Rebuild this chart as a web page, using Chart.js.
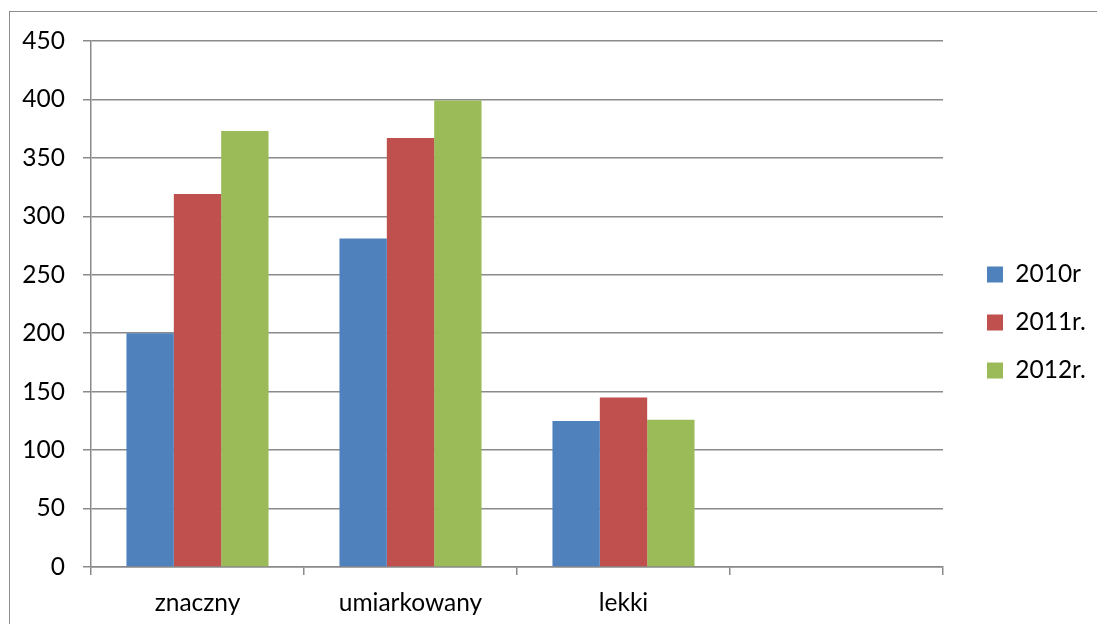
<!DOCTYPE html>
<html>
<head>
<meta charset="utf-8">
<script src="https://cdn.jsdelivr.net/npm/chart.js@4/dist/chart.umd.min.js"></script>
<style>
  html, body { margin: 0; padding: 0; background: #fff; }
  #wrap { position: relative; width: 1097px; height: 624px; overflow: hidden; }
  #frame { position: absolute; left: 9px; top: 11px; right: -5px; bottom: -5px;
           border-left: 1.5px solid #8c8c8c; border-top: 1.5px solid #8c8c8c; }
  canvas { position: absolute; left: 0; top: 0; }
</style>
</head>
<body>
<div id="wrap">
  <div id="frame"></div>
  <canvas id="c" width="1097" height="624"></canvas>
</div>
<script>
const categories = ["znaczny", "umiarkowany", "lekki", ""];
const seriesNames = ["2010r", "2011r.", "2012r."];
const values2010 = [200, 281, 125, null];
const values2011 = [319, 367, 145, null];
const values2012 = [373, 399, 126, null];
const yTicks = [0, 50, 100, 150, 200, 250, 300, 350, 400, 450];
const colors = ["#4F81BD", "#C0504D", "#9BBB59"];

const FONT = { family: "Lato, 'Open Sans', sans-serif", size: 24.5 };
const GRID = "#8a8a8a";

const legendTune = {
  id: 'legendTune',
  afterInit(chart) {
    const l = chart.legend;
    if (!l) return;
    const f = l.fit.bind(l);
    l.fit = function () { f(); this.width = 154; };
  },
  afterLayout(chart) {
    const l = chart.legend;
    if (!l) return;
    l.left += 20.5; l.right += 20.5;
    l.top -= 10; l.bottom -= 10;
  }
};

new Chart(document.getElementById('c'), {
  type: 'bar',
  data: {
    labels: categories,
    datasets: [values2010, values2011, values2012].map((d, i) => ({
      label: seriesNames[i],
      data: d,
      backgroundColor: colors[i],
      borderWidth: 0,
      categoryPercentage: 0.667,
      barPercentage: 1.0
    }))
  },
  options: {
    responsive: false,
    animation: false,
    layout: { padding: { left: 0, top: 41, right: 0, bottom: 0 } },
    plugins: {
      tooltip: { enabled: false },
      legend: {
        position: 'right',
        align: 'center',
        labels: {
          boxWidth: 16, boxHeight: 16, padding: 23.5,
          color: '#000', font: FONT
        }
      }
    },
    scales: {
      x: {
        offset: true,
        grid: { offset: true, drawOnChartArea: false, drawTicks: true, tickLength: 8, color: GRID, lineWidth: 1.5 },
        border: { display: true, color: GRID, width: 1.5 },
        ticks: { color: '#000', font: FONT, padding: 13, maxRotation: 0, autoSkip: false },
        afterFit(s) { s.height = 57; }
      },
      y: {
        min: 0, max: 450,
        afterBuildTicks(s) { s.ticks = yTicks.map(v => ({ value: v })); },
        grid: { color: GRID, lineWidth: 1.5, tickLength: 8 },
        border: { display: true, color: GRID, width: 1.5 },
        ticks: { color: '#000', font: FONT, padding: 18 },
        afterFit(s) { s.width = 91; }
      }
    }
  },
  plugins: [legendTune]
});
</script>
</body>
</html>
